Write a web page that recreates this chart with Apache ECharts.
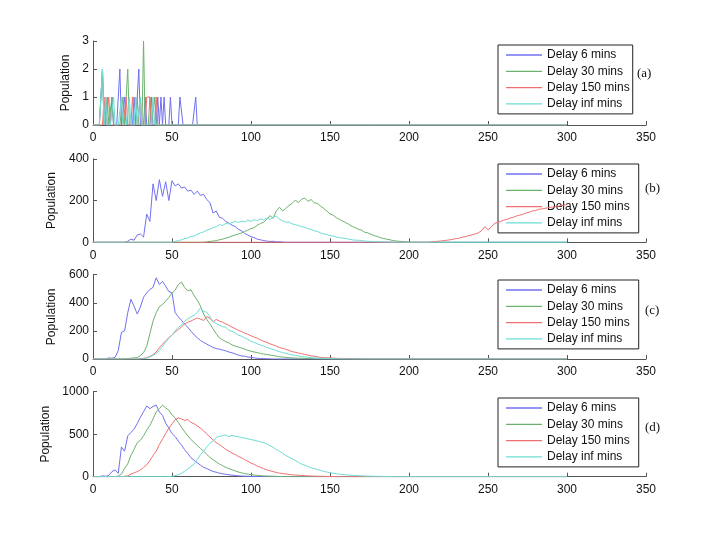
<!DOCTYPE html>
<html>
<head>
<meta charset="utf-8">
<title>Population by delay</title>
<script src="https://cdn.jsdelivr.net/npm/echarts@6/dist/echarts.min.js"></script>
<style>
  html, body { margin: 0; padding: 0; background: #fff; }
  #chart { width: 712px; height: 534px; }
</style>
</head>
<body>
<div id="chart"></div>
<script>
// series names and colours
const seriesNames = ['Delay 6 mins', 'Delay 30 mins', 'Delay 150 mins', 'Delay inf mins'];
const seriesColors = ['#7070f0', '#6cb26c', '#f07070', '#6cdcd4'];
const panelLabels = ['(a)', '(b)', '(c)', '(d)'];
const xTicks = [0, 50, 100, 150, 200, 250, 300, 350];
const xEnd = 300; // every run stops at 300

// panel (a): counts at x = 0,1,2,...
const a6 = [0,0,0,0,0,0,2,0,1,0,0,0,1,0,0,0,0,2,0,0,1,0,0,0,0,0,1,0,0,2,0,0,0,1,0,0,0,1,0,0,0,1,0,1,0,1,0,0,0,1,0,0,0,0,0,1,1,0,0,0,0,0,0,0,0,1,0];
const a30 = [0,0,0,0,0,0,2,0,0,1,0,0,1,0,0,0,0,0,0,1,0,0,2,0,0,0,0,0,1,0,0,0,3,0,0,0,1,0,0,1,0];
const a150 = [0,0,0,0,0,0,0,1,0,0,1,0,0,0,0,0,0,0,0,0,0,1,0,0,0,1,0,0,0,0,1,0,0,0,1,1,1,0,0,0,1,0];
const aInf = [0,0,0,0,0,0,2,0,1,0,0,0,0,1,0,0,0,0,1,0,0,0,0,1,0,0,0,1,0,0,1,0,0,0,0,0,0,0,1,0];

// panels (b)-(d): values every 2 units starting at the given x
const b6 = {start: 20, vals: [0,5,15,10,35,40,25,135,100,280,200,300,220,290,200,295,270,280,260,265,245,250,230,245,225,230,205,190,140,150,120,115,100,92,82,75,62,55,42,35,27,22,15,12,8,6,4,5,2,3,1,0]};
const b30 = {start: 70, vals: [0,2,4,6,8,12,15,20,24,30,35,40,45,52,58,66,70,82,90,96,110,128,115,150,168,150,162,176,186,202,190,206,212,196,205,190,186,174,162,150,136,130,118,110,102,94,86,76,70,62,58,48,45,38,32,28,22,18,15,12,8,6,5,3,2,1,0]};
const b150 = {start: 212, vals: [0,2,3,5,6,8,10,12,15,18,20,25,28,32,36,40,46,56,75,60,72,90,95,100,106,110,116,120,126,130,134,140,144,150,152,158,160,162,166,168,170,172,175,178,180]};
const bInf = {start: 50, vals: [0,5,8,12,18,20,28,30,38,45,50,58,62,70,75,85,80,90,88,95,100,95,102,98,106,100,108,104,112,108,116,110,120,126,110,104,96,98,88,85,80,75,72,65,62,55,52,45,40,38,32,30,25,22,20,18,15,12,10,10,8,6,5,4,3,3,2,2,1,1,0]};

const c6 = {start: 8, vals: [0,8,5,12,60,190,200,330,425,375,320,370,440,470,495,510,578,530,552,518,480,470,330,300,276,248,226,198,172,152,132,118,106,94,82,74,70,64,58,50,44,36,28,22,20,14,12,8,5,4,3,2,1,0]};
const c30 = {start: 18, vals: [0,2,4,5,8,10,25,45,90,180,270,330,372,388,412,438,468,490,530,548,508,486,492,452,418,378,320,282,250,214,180,150,136,124,115,100,92,85,78,70,62,55,50,45,40,35,32,28,25,20,16,14,12,10,8,7,6,5,4,3,3,2,1,0]};
const c150 = {start: 28, vals: [0,3,5,10,18,30,50,80,106,130,152,170,192,210,228,250,262,270,282,292,284,274,302,290,264,282,270,262,250,240,226,216,204,196,184,176,165,156,148,136,126,118,108,100,92,82,75,70,62,52,48,42,38,32,28,22,20,15,12,10,9,8,6,5,4,4,3,3,2,2,1,1,0]};
const cInf = {start: 30, vals: [0,3,6,15,25,40,60,90,120,146,170,200,226,240,270,286,300,312,332,362,340,332,300,266,252,240,230,226,205,196,185,170,162,150,140,125,118,108,100,92,82,75,68,60,52,46,40,35,30,26,22,18,15,12,10,8,7,6,5,4,3,2,2,1,1,0]};

const d6 = {start: 4, vals: [0,10,5,15,60,80,40,350,300,480,520,560,625,700,765,832,800,826,842,762,722,630,572,508,472,418,372,318,272,224,192,164,136,110,96,78,62,52,42,35,28,22,18,14,10,8,6,5,4,3,2,1,1,0]};
const d30 = {start: 12, vals: [0,3,8,30,100,150,250,322,400,428,482,548,602,680,762,800,842,808,782,728,692,638,582,528,482,438,402,368,332,300,262,228,200,174,150,130,110,96,82,68,55,45,36,30,24,20,16,12,10,8,6,5,4,3,2,1,1,0]};
const d150 = {start: 18, vals: [0,5,10,30,45,60,80,110,140,190,250,300,380,442,510,570,622,670,692,680,662,672,640,622,598,572,540,502,468,432,402,378,352,322,300,278,262,238,222,200,182,160,146,124,110,95,80,70,60,50,42,38,32,28,22,20,16,14,12,10,8,7,6,5,4,3,2,2,1,1,0]};
const dInf = {start: 46, vals: [0,2,5,12,25,40,65,90,120,150,200,260,300,350,392,420,462,476,482,492,470,486,476,470,462,455,446,436,430,420,410,400,386,364,346,320,300,276,250,230,210,190,170,150,136,120,105,95,85,75,62,55,48,40,35,30,26,22,18,16,14,12,10,8,7,6,5,4,3,3,2,2,1,1,0]};

const panels = [
  {series: [a6, a30, a150, aInf], yMax: 3, yStep: 1, nameGap: 15, top: 41, height: 84, legendTop: 45, legendRightPad: 3},
  {series: [b6, b30, b150, bInf], yMax: 400, yStep: 200, nameGap: 28, top: 158.8, height: 83.5, legendTop: 164, legendRightPad: 9},
  {series: [c6, c30, c150, cInf], yMax: 600, yStep: 200, nameGap: 29, top: 274.7, height: 84.3, legendTop: 280, legendRightPad: 9},
  {series: [d6, d30, d150, dInf], yMax: 1000, yStep: 500, nameGap: 34.5, top: 391.7, height: 85, legendTop: 398, legendRightPad: 9}
];
const labelTops = [67, 182, 304, 421];
const labelLefts = [637, 645, 645, 645];

// turn one run into [x, y] pairs that cover 0..300
function toPairs(run) {
  let pts;
  if (Array.isArray(run)) {
    pts = run.map((v, i) => [i, v]);
  } else {
    pts = run.vals.map((v, i) => [run.start + i * 2, v]);
  }
  if (pts[0][0] > 0) pts.unshift([0, 0]);
  const last = pts[pts.length - 1][0];
  if (last < xEnd) pts.push([xEnd, 0]);
  return pts;
}

const font = '"Liberation Sans", Arial, sans-serif';
const grid = [], xAxis = [], yAxis = [], series = [], legend = [], title = [];

panels.forEach((p, k) => {
  grid.push({left: 93, width: 553, top: p.top, height: p.height});
  xAxis.push({
    type: 'value', gridIndex: k, min: 0, max: 350, interval: 50,
    axisLine: {show: true, lineStyle: {color: '#555', width: 1}},
    axisTick: {show: true, inside: true, length: 4, lineStyle: {color: '#555'}},
    axisLabel: {color: '#111', fontSize: 12, fontFamily: font, margin: 7},
    splitLine: {show: false}
  });
  yAxis.push({
    type: 'value', gridIndex: k, min: 0, max: p.yMax, interval: p.yStep,
    name: 'Population', nameLocation: 'middle', nameRotate: 90, nameGap: p.nameGap,
    nameTextStyle: {color: '#111', fontSize: 12, fontFamily: font},
    axisLine: {show: true, lineStyle: {color: '#555', width: 1}},
    axisTick: {show: true, inside: true, length: 4, lineStyle: {color: '#555'}},
    axisLabel: {color: '#111', fontSize: 12, fontFamily: font, margin: 4, formatter: v => String(v)},
    splitLine: {show: false}
  });
  p.series.forEach((run, j) => {
    series.push({
      name: seriesNames[j], type: 'line', xAxisIndex: k, yAxisIndex: k,
      data: toPairs(run), symbol: 'none', showSymbol: false,
      lineStyle: {color: seriesColors[j], width: 1},
      itemStyle: {color: seriesColors[j]},
      emphasis: {disabled: true}, z: 2 + j
    });
  });
  legend.push({
    data: seriesNames, orient: 'vertical', left: 498, top: p.legendTop,
    icon: 'rect', itemWidth: 36, itemHeight: 1.3, itemGap: 1.3,
    itemStyle: {borderWidth: 0},
    padding: [2.5, p.legendRightPad, 2.5, 8],
    backgroundColor: '#fff', borderColor: '#222', borderWidth: 1, borderRadius: 0,
    selectedMode: false,
    textStyle: {color: '#111', fontSize: 12, lineHeight: 15, fontFamily: font}
  });
  title.push({
    text: panelLabels[k], left: labelLefts[k], top: labelTops[k], padding: 0,
    textStyle: {fontFamily: '"Liberation Serif", "Times New Roman", serif', fontWeight: 'normal', fontSize: 13, color: '#111'}
  });
});

const chart = echarts.init(document.getElementById('chart'));
chart.setOption({
  animation: false,
  backgroundColor: '#fff',
  title: title,
  grid: grid,
  xAxis: xAxis,
  yAxis: yAxis,
  legend: legend,
  series: series
});
</script>
</body>
</html>
